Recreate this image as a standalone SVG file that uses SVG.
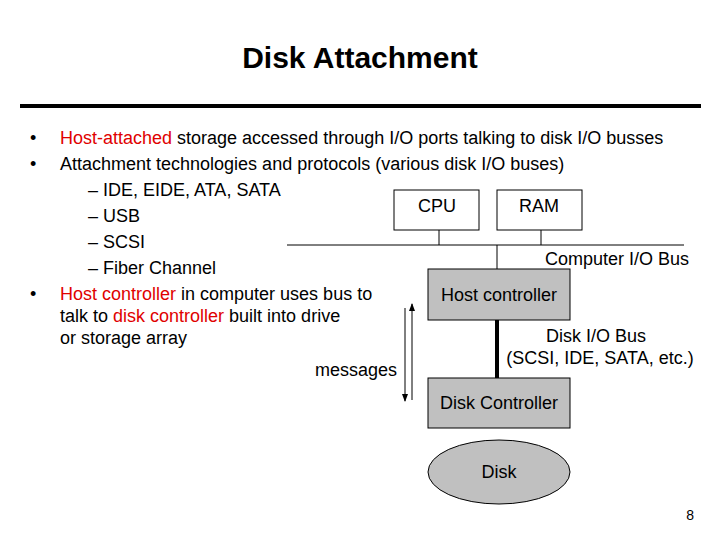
<svg xmlns="http://www.w3.org/2000/svg" width="720" height="540" viewBox="0 0 720 540">
<style>
text{font-family:"Liberation Sans",Arial,sans-serif;fill:#000}
.b{font-size:18px}
.r{fill:#e00000}
.box{stroke:#000;stroke-width:1}
.ln{stroke:#000;stroke-width:1;fill:none}
</style>
<defs><marker id="ah" markerWidth="8" markerHeight="8" refX="7" refY="4" orient="auto" markerUnits="userSpaceOnUse"><path d="M0,1 L8,4 L0,7 Z" fill="#000"/></marker></defs>
<rect width="720" height="540" fill="#fff"/>
<text x="360" y="68" text-anchor="middle" font-size="30" font-weight="bold">Disk Attachment</text>
<rect x="20" y="104" width="681" height="4" fill="#000"/>
<g class="b">
<text x="30" y="144">•</text><text x="60" y="144"><tspan class="r">Host-attached</tspan> storage accessed through I/O ports talking to disk I/O busses</text>
<text x="30" y="170">•</text><text x="60" y="170">Attachment technologies and protocols (various disk I/O buses)</text>
<text x="88" y="196">– IDE, EIDE, ATA, SATA</text>
<text x="88" y="222">– USB</text>
<text x="88" y="248">– SCSI</text>
<text x="88" y="274">– Fiber Channel</text>
<text x="30" y="300">•</text><text x="60" y="300"><tspan class="r">Host controller</tspan> in computer uses bus to</text>
<text x="60" y="322">talk to <tspan class="r">disk controller</tspan> built into drive</text>
<text x="60" y="344">or storage array</text>
</g>
<g id="connectors">
<line class="ln" x1="287" y1="245" x2="684" y2="245"/>
<line class="ln" x1="439" y1="230" x2="439" y2="245"/>
<line class="ln" x1="541" y1="230" x2="541" y2="245"/>
<line class="ln" x1="497" y1="245" x2="497" y2="269"/>
<line x1="497" y1="320" x2="497" y2="378" stroke="#000" stroke-width="4"/>
<line class="ln" x1="412" y1="400" x2="412" y2="304" stroke-width="2" marker-end="url(#ah)"/>
<line class="ln" x1="405" y1="308" x2="405" y2="401" stroke-width="2" marker-end="url(#ah)"/>
</g>
<g id="cpu"><rect class="box" x="394" y="190" width="85" height="40" fill="#fff"/><text class="b" x="437" y="212" text-anchor="middle">CPU</text></g>
<g id="ram"><rect class="box" x="497" y="190" width="85" height="40" fill="#fff"/><text class="b" x="539" y="212" text-anchor="middle">RAM</text></g>
<text class="b" x="689" y="265" text-anchor="end">Computer I/O Bus</text>
<g id="host"><rect class="box" x="428" y="269" width="142" height="51" fill="#c0c0c0"/><text class="b" x="499" y="301" text-anchor="middle">Host controller</text></g>
<text class="b" x="596" y="342" text-anchor="middle">Disk I/O Bus</text>
<text class="b" x="600" y="364" text-anchor="middle">(SCSI, IDE, SATA, etc.)</text>
<text class="b" x="397" y="376" text-anchor="end">messages</text>
<g id="dc"><rect class="box" x="428" y="378" width="142" height="50" fill="#c0c0c0"/><text class="b" x="499" y="409" text-anchor="middle">Disk Controller</text></g>
<g id="disk"><ellipse class="box" cx="499" cy="472" rx="71" ry="32" fill="#c0c0c0"/><text class="b" x="499" y="478" text-anchor="middle">Disk</text></g>
<text x="694" y="520" text-anchor="end" font-size="14">8</text>
</svg>
